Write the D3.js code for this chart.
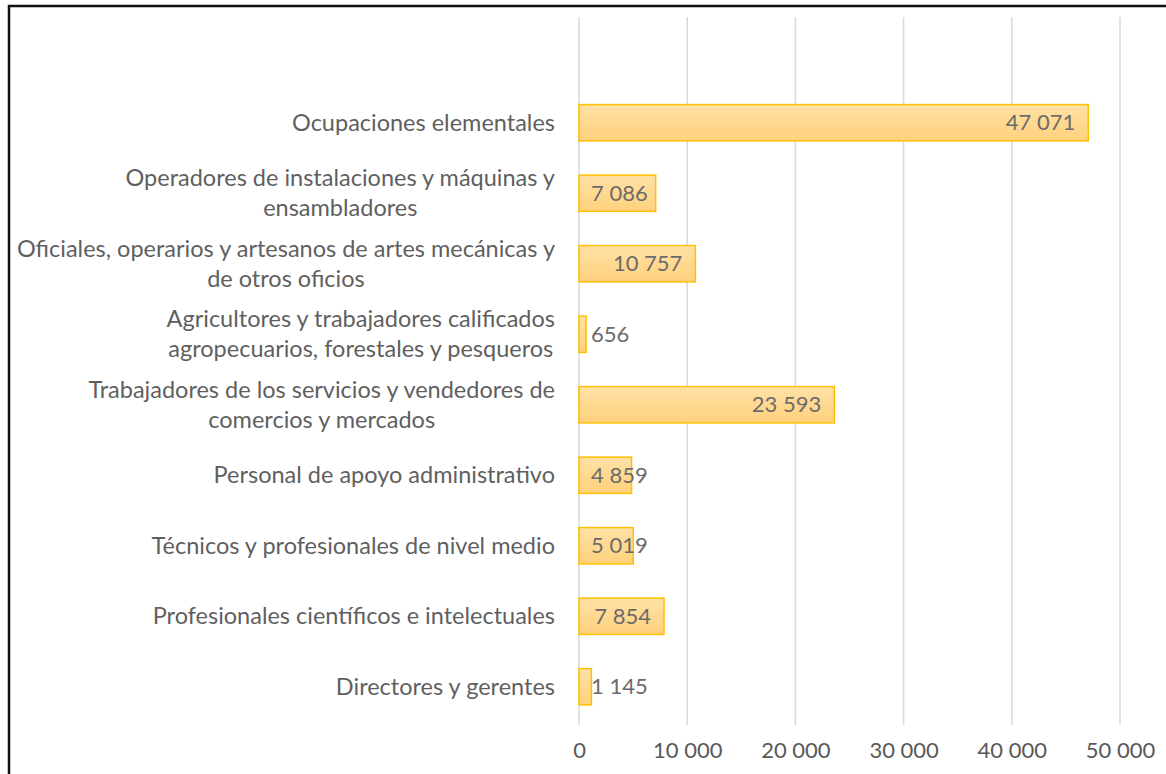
<!DOCTYPE html>
<html>
<head>
<meta charset="utf-8">
<script src="https://cdn.jsdelivr.net/npm/d3@7"></script>
<style>
  html, body { margin: 0; padding: 0; background: #fff; }
  svg { display: block; font-family: Lato, "Open Sans", sans-serif; }
</style>
</head>
<body>
<div id="chart"><svg></svg></div>
<script>
// categories, top to bottom ("\n" = line break as in the original label)
var categories = [
  "Ocupaciones elementales",
  "Operadores de instalaciones y máquinas y\nensambladores",
  "Oficiales, operarios y artesanos de artes mecánicas y\nde otros oficios",
  "Agricultores y trabajadores calificados\nagropecuarios, forestales y pesqueros",
  "Trabajadores de los servicios y vendedores de\ncomercios y mercados",
  "Personal de apoyo administrativo",
  "Técnicos y profesionales de nivel medio",
  "Profesionales científicos e intelectuales",
  "Directores y gerentes"
];
var values = [47071, 7086, 10757, 656, 23593, 4859, 5019, 7854, 1145];
var tickValues = [0, 10000, 20000, 30000, 40000, 50000];

var W = 1166, H = 774;
var numSize = 22, catSize = 23.5;
var svg = d3.select("svg").attr("width", W).attr("height", H);

var loc = d3.formatLocale({decimal: ",", thousands: " ", grouping: [3], currency: ["", ""]});
var fmt = loc.format(",d");

// plot area (one empty slot above the first category, as in the original)
var plot = {left: 579, right: 1120, top: 17, bottom: 722};
var x = d3.scaleLinear().domain([0, 50000]).range([plot.left, plot.right]);
var y = d3.scaleBand()
  .domain([""].concat(categories))
  .range([plot.top, plot.bottom])
  .paddingInner(0.485).paddingOuter(0.2425);

var defs = svg.append("defs");
var grad = defs.append("linearGradient").attr("id", "barGrad")
  .attr("x1", 0).attr("y1", 0).attr("x2", 0).attr("y2", 1);
grad.append("stop").attr("offset", "0%").attr("stop-color", "#ffe1a6");
grad.append("stop").attr("offset", "100%").attr("stop-color", "#ffd17c");

// gridlines
svg.append("g").selectAll("line").data(tickValues).join("line")
  .attr("x1", function(d){ return x(d); }).attr("x2", function(d){ return x(d); })
  .attr("y1", plot.top).attr("y2", plot.bottom + 3)
  .attr("stroke", "#d9d9d9").attr("stroke-width", 1.5);

// x axis labels
var xAxis = d3.axisBottom(x).tickValues(tickValues).tickFormat(fmt).tickSize(0).tickPadding(0);
var gx = svg.append("g").attr("transform", "translate(0,742)").call(xAxis);
gx.select(".domain").remove();
gx.selectAll("text").attr("font-size", numSize).attr("fill", "#595959")
  .attr("font-family", "Lato, sans-serif").attr("dy", "0.71em");

// bars
var data = categories.map(function(c, i){ return {cat: c, value: values[i]}; });
svg.append("g").selectAll("rect").data(data).join("rect")
  .attr("x", x(0))
  .attr("y", function(d){ return y(d.cat); })
  .attr("width", function(d){ return x(d.value) - x(0); })
  .attr("height", y.bandwidth())
  .attr("fill", "url(#barGrad)")
  .attr("stroke", "#ffc000").attr("stroke-width", 1.5);

// data labels (inside end, pushed out when the bar is too short)
var labels = svg.append("g").selectAll("text").data(data).join("text")
  .attr("y", function(d){ return y(d.cat) + y.bandwidth() / 2; })
  .attr("dy", "0.35em")
  .attr("font-size", numSize).attr("fill", "#6b6b6b")
  .text(function(d){ return fmt(d.value); });
labels.each(function(d){
  var w = this.getComputedTextLength();
  var left = Math.max(x(d.value) - 13 - w, x(0) + 12);
  d3.select(this).attr("x", left);
});

// category labels: block right-aligned, lines centred within the block
var labelRight = 555, lineH = 30;
svg.append("g").selectAll("g").data(data).join("g").each(function(d){
  var g = d3.select(this);
  var lines = d.cat.split("\n");
  var cy = y(d.cat) + y.bandwidth() / 2;
  var texts = g.selectAll("text").data(lines).join("text")
    .attr("font-size", catSize).attr("fill", "#5f5f5f")
    .attr("dy", "0.35em")
    .attr("y", function(l, i){ return cy + (i - (lines.length - 1) / 2) * lineH; })
    .text(function(l){ return l; });
  var widths = [];
  texts.each(function(){ widths.push(this.getComputedTextLength()); });
  var maxW = d3.max(widths);
  texts.attr("text-anchor", "middle").attr("x", labelRight - maxW / 2);
});

// outer frame
svg.append("rect").attr("x", 9).attr("y", 6).attr("width", W + 20).attr("height", H + 20)
  .attr("fill", "none").attr("stroke", "#111").attr("stroke-width", 2.5);
</script>
</body>
</html>
